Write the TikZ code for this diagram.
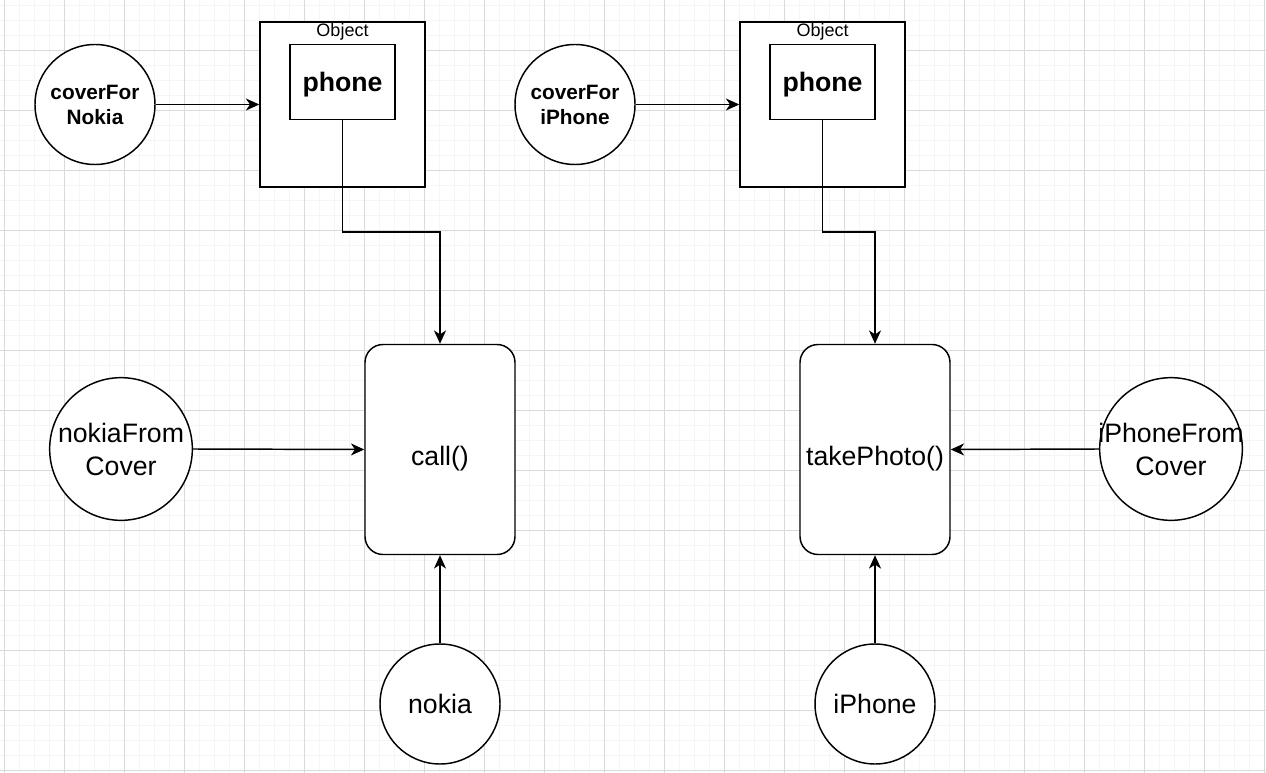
\documentclass[tikz,border=0pt]{standalone}
\usepackage{fontspec}
\setmainfont{Liberation Sans}
\usetikzlibrary{arrows.meta}
\begin{document}
\begin{tikzpicture}[x=0.75pt,y=-0.75pt,
  minorgrid/.style={draw={rgb,255:red,245;green,245;blue,245},line width=0.75pt},
  majorgrid/.style={draw={rgb,255:red,218;green,218;blue,218},line width=0.75pt},
  shp/.style={draw=black,line width=1.1pt,fill=white,inner sep=0pt,align=center},
  bigcircle/.style={shp,circle,minimum size=107pt,font=\fontsize{20pt}{24.75pt}\selectfont},
  smallcircle/.style={shp,circle,minimum size=90pt,font=\fontsize{15.6pt}{18.75pt}\selectfont\bfseries},
  midcircle/.style={shp,circle,minimum size=90pt,font=\fontsize{20pt}{24.75pt}\selectfont},
  objbox/.style={shp,rectangle,minimum width=123.75pt,minimum height=123.75pt},
  phonebox/.style={shp,rectangle,minimum width=78.75pt,minimum height=56.25pt,text height=19pt,text depth=4.2pt,font=\fontsize{20pt}{23pt}\selectfont\bfseries},
  funcbox/.style={shp,rectangle,rounded corners=13.5pt,minimum width=112.5pt,minimum height=157.5pt,text height=28pt,text depth=4.2pt,font=\fontsize{20pt}{23pt}\selectfont},
  objlabel/.style={inner sep=0pt,font=\fontsize{13.5pt}{16pt}\selectfont},
  conn/.style={draw=black,line width=1.1pt,-{Stealth[length=10pt,width=9pt,inset=3pt]}}
]
\useasboundingbox (0,0) rectangle (1266,773);
\fill[white] (0,0) rectangle (1266,773);
% grid
\foreach \x in {4,19,...,1264} \draw[minorgrid] (\x,0) -- (\x,773);
\foreach \y in {5.5,20.5,...,770.5} \draw[minorgrid] (0,\y) -- (1266,\y);
\foreach \x in {4,64,...,1264} \draw[majorgrid] (\x,0) -- (\x,773);
\foreach \y in {50.5,110.5,...,770.5} \draw[majorgrid] (0,\y) -- (1266,\y);

% left side
\node[objbox] (objL) at (342.5,104.5) {};
\node[objlabel] (objLlab) at (342.5,32) {Object};
\node[phonebox] (phoneL) at (342.5,82) {phone};
\node[smallcircle] (coverN) at (95,104.5) {coverFor\\Nokia};
\node[funcbox] (call) at (440,449.5) {call()};
\node[bigcircle] (nokiaFC) at (121,449) {\makebox[60pt]{nokiaFrom}\\Cover};
\node[midcircle] (nokia) at (440,704) {nokia};
\coordinate (bendL) at (342.5,232);

% right side
\node[objbox] (objR) at (822.5,104.5) {};
\node[objlabel] (objRlab) at (822.5,32) {Object};
\node[phonebox] (phoneR) at (822.5,82) {phone};
\node[smallcircle] (coverI) at (575,104.5) {coverFor\\iPhone};
\node[funcbox] (photo) at (875,449.5) {takePhoto()};
\node[bigcircle] (iphoneFC) at (1171,449) {\makebox[60pt]{iPhoneFrom}\\Cover};
\node[midcircle] (iphone) at (875,704) {iPhone};
\coordinate (bendR) at (822.5,232);

% connectors
\draw[conn] (coverN.east) -- (objL.west);
\draw[conn] (phoneL.south) -- (bendL) -| (call.north);
\draw[conn] (nokiaFC.east) -- (call.west);
\draw[conn] (nokia.north) -- (call.south);

\draw[conn] (coverI.east) -- (objR.west);
\draw[conn] (phoneR.south) -- (bendR) -| (photo.north);
\draw[conn] (iphoneFC.west) -- (photo.east);
\draw[conn] (iphone.north) -- (photo.south);
\end{tikzpicture}
\end{document}
